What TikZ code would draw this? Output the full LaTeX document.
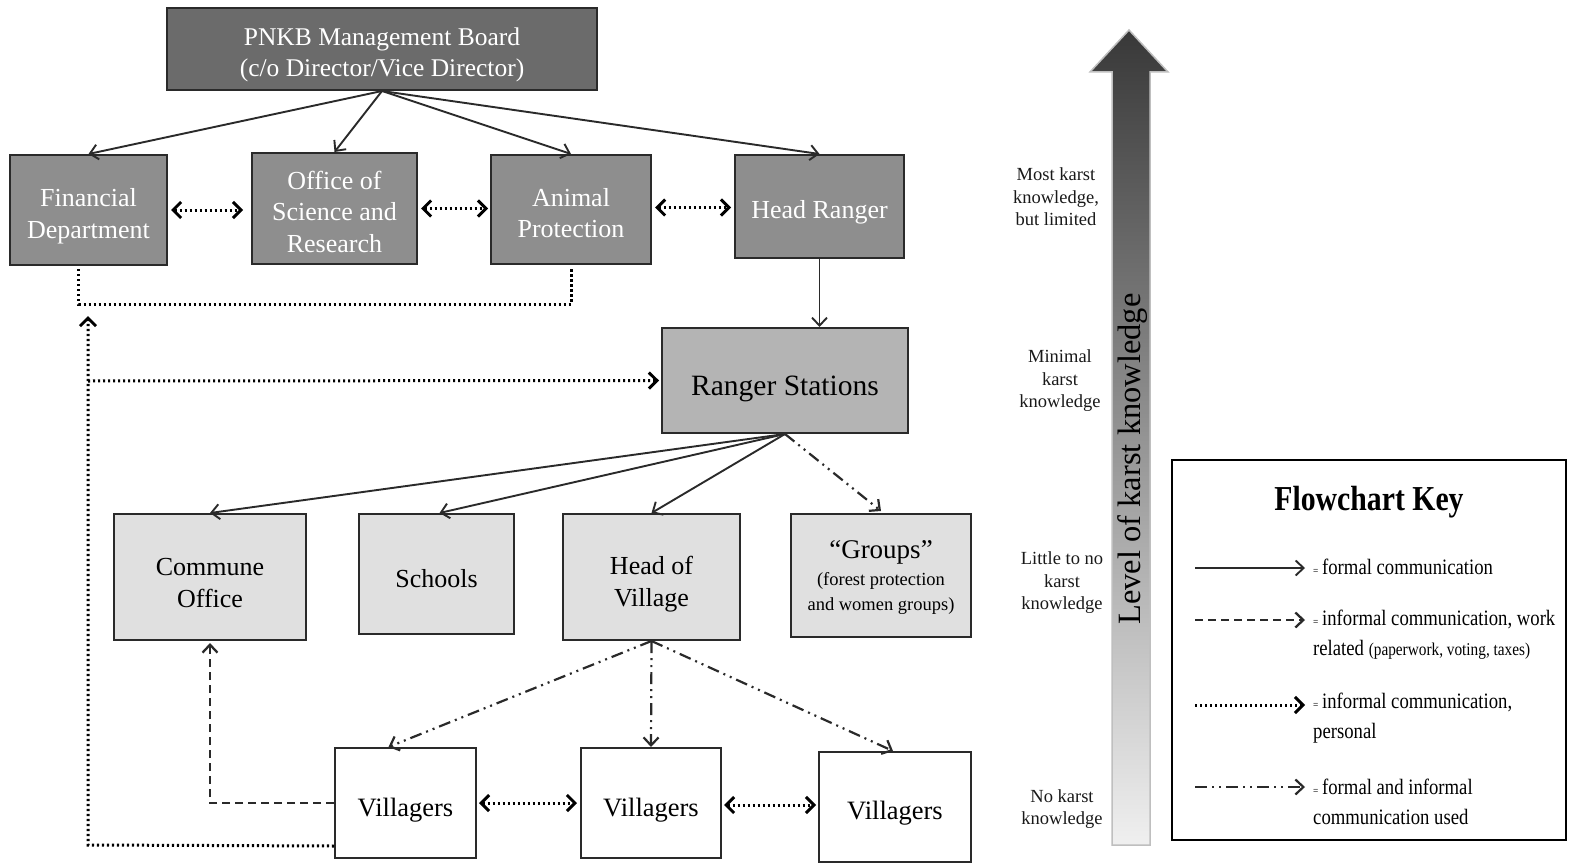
\documentclass[tikz,border=0pt]{standalone}
\usepackage{fontspec}
\setmainfont{Liberation Serif}
\newfontfamily\keyfont[FakeStretch=0.85]{Liberation Serif}
\usetikzlibrary{arrows.meta,calc}

\definecolor{boardgray}{HTML}{6B6B6B}
\definecolor{midgray}{HTML}{8E8E8E}
\definecolor{stationgray}{HTML}{B4B4B4}
\definecolor{lowgray}{HTML}{E0E0E0}
\definecolor{edge}{HTML}{2A2A2A}

% a strut that makes the first line taller, so the text sits a little lower in its box
\newcommand{\dn}[1]{\rule{0pt}{\dimexpr 0.7em+#1\relax}}
\newcommand{\eqmark}{{\fontsize{11}{11}\selectfont=}\,}
\newcommand{\groupsub}{\fontsize{18.5}{25}\selectfont}

\tikzset{
  box/.style={draw=edge, line width=2pt, inner sep=0pt, align=center,
    font=\fontsize{26}{31.5}\selectfont},
  topbox/.style={box, fill=boardgray, text=white, font=\fontsize{25.5}{31}\selectfont},
  deptbox/.style={box, fill=midgray, text=white},
  stationbox/.style={box, fill=stationgray, font=\fontsize{29.5}{34}\selectfont},
  localbox/.style={box, fill=lowgray},
  villbox/.style={box, fill=white, font=\fontsize{26.5}{32}\selectfont},
  barb/.style={Straight Barb[length=8pt,width=15pt]},
  formal/.style={line width=1.9pt, draw=edge, -{Straight Barb[length=8pt,width=15pt]}},
  workinf/.style={line width=2.3pt, draw=edge, dash pattern=on 8pt off 5pt,
    -{Straight Barb[length=8pt,width=15pt]}},
  personal/.style={line width=3pt, draw=black, dash pattern=on 2.2pt off 2.8pt},
  personalto/.style={personal, -{Straight Barb[length=8pt,width=16pt]}},
  personalboth/.style={personal, {Straight Barb[length=8pt,width=16pt]}-{Straight Barb[length=8pt,width=16pt]}},
  mixed/.style={line width=2.2pt, draw=edge,
    dash pattern=on 12pt off 5pt on 2pt off 5pt on 2pt off 5pt,
    -{Straight Barb[length=8pt,width=15pt]}},
  levellabel/.style={align=center, font=\fontsize{18.5}{22.5}\selectfont, text=black!90},
  keytext/.style={anchor=west, align=left, inner sep=0pt,
    font=\keyfont\fontsize{22}{30}\selectfont},
}

\begin{document}
\begin{tikzpicture}[x=1pt,y=-1pt]
\useasboundingbox (0,0) rectangle (1572,864);

% ---------- organisation boxes ----------
\node[topbox, minimum width=430pt, minimum height=82pt] (board) at (382,49)
  {\dn{12pt}PNKB Management Board\\(c/o Director/Vice Director)};

\node[deptbox, minimum width=157pt, minimum height=110pt] (fin) at (88.5,210)
  {\dn{12pt}Financial\\Department};
\node[deptbox, minimum width=165pt, minimum height=111pt] (osr) at (334.5,208.5)
  {\dn{7pt}Office of\\Science and\\Research};
\node[deptbox, minimum width=160pt, minimum height=109pt] (anim) at (571,209.5)
  {\dn{7pt}Animal\\Protection};
\node[deptbox, minimum width=169pt, minimum height=103pt] (head) at (819.5,206.5)
  {\dn{12pt}Head Ranger};

\node[stationbox, minimum width=246pt, minimum height=105pt] (rs) at (785,380.5)
  {\dn{16pt}Ranger Stations};

\node[localbox, minimum width=192pt, minimum height=126pt] (comm) at (210,577)
  {\dn{11pt}Commune\\Office};
\node[localbox, minimum width=155pt, minimum height=120pt] (school) at (436.5,574)
  {\dn{10pt}Schools};
\node[localbox, minimum width=177pt, minimum height=126pt] (hov) at (651.5,577)
  {\dn{14pt}Head of\\Village};
\node[localbox, minimum width=180pt, minimum height=123pt] (groups) at (881,575.5)
  {\fontsize{27}{28}\selectfont\dn{4pt}“Groups”\\[-5pt]
   \groupsub (forest protection\\[-6pt] \groupsub and women groups)};

\node[villbox, minimum width=141pt, minimum height=110pt] (v1) at (405.5,803) {\dn{14pt}Villagers};
\node[villbox, minimum width=140pt, minimum height=110pt] (v2) at (651,803) {\dn{14pt}Villagers};
\node[villbox, minimum width=152pt, minimum height=110pt] (v3) at (895,807) {\dn{12pt}Villagers};

% ---------- formal lines ----------
\draw[formal] (board.south) -- (fin.north);
\draw[formal] (board.south) -- (osr.north);
\draw[formal] (board.south) -- (anim.north);
\draw[formal] (board.south) -- (head.north);
\draw[formal] (head.south) -- (head.south |- rs.north);
\draw[formal] (rs.south) -- (comm.north);
\draw[formal] (rs.south) -- ([xshift=3pt]school.north);
\draw[formal] (rs.south) -- (hov.north);

% ---------- formal and informal ----------
\draw[mixed] (rs.south) -- ([yshift=2pt]groups.north);
\draw[mixed] (hov.south) -- ([xshift=-17pt]v1.north);
\draw[mixed] (hov.south) -- (v2.north);
\draw[mixed] (hov.south) -- ([xshift=-2pt]v3.north);

% ---------- personal links ----------
\draw[personalboth, shorten <=3pt, shorten >=8pt] (fin.east) -- (fin.east -| osr.west);
\draw[personalboth, shorten <=3pt, shorten >=2pt] (osr.east) -- (osr.east -| anim.west);
\draw[personalboth, shorten <=3pt, shorten >=3pt] ([yshift=2pt]anim.east) -- ([yshift=2pt]anim.east -| head.west);
\draw[personalboth, shorten <=2pt, shorten >=3pt] (v1.east) -- (v1.east -| v2.west);
\draw[personalboth, shorten <=2pt, shorten >=2pt] ([yshift=-2pt]v2.east) -- ([yshift=-2pt]v2.east -| v3.west);

\coordinate (finfoot) at ([xshift=-10pt,yshift=-3pt]fin.south);
\coordinate (animfoot) at ([yshift=-3pt]anim.south);
\draw[personal] (finfoot) -- ++(0,35) -| (animfoot);

\coordinate (loopcorner) at (88,845);
\coordinate (looptop) at (88,316);
\coordinate (branch) at (88,381);
\draw[personalto] ([yshift=13pt]v1.south west) -- (loopcorner) -- (looptop);
\draw[personalto, shorten >=2pt] (branch) -- (rs.west);

% ---------- work related informal ----------
\draw[workinf, shorten >=2pt] (v1.west) -| (comm.south);

% ---------- knowledge scale ----------
\path[top color=black!78, bottom color=black!6, draw=black!25, line width=1.5pt]
  (1112,845) -- (1112,72) -- (1090,72) -- (1129,30) -- (1168,72) -- (1150,72)
  -- (1150,845) -- cycle;
\node[rotate=90, font=\fontsize{32.5}{34}\selectfont] (scale) at (1133,459)
  {Level of karst knowledge};

\node[levellabel] (lvl1) at (1056,197) {Most karst\\knowledge,\\but limited};
\node[levellabel] (lvl2) at (1060,381) {Minimal\\karst\\knowledge};
\node[levellabel] (lvl3) at (1062,583) {Little to no\\karst\\knowledge};
\node[levellabel] (lvl4) at (1062,809) {No karst\\knowledge};

% ---------- key ----------
\node[draw=black, line width=2.5pt, minimum width=394pt, minimum height=380pt,
  inner sep=0pt] (key) at (1369,650) {};
\node[font=\keyfont\bfseries\fontsize{35}{38}\selectfont] (keytitle) at (1369,502)
  {Flowchart Key};

\coordinate (k1a) at (1195,568);  \coordinate (k1b) at (1305,568);
\coordinate (k2a) at (1195,620);  \coordinate (k2b) at (1305,620);
\coordinate (k3a) at (1195,705);  \coordinate (k3b) at (1305,705);
\coordinate (k4a) at (1195,787);  \coordinate (k4b) at (1305,787);
\draw[formal] (k1a) -- (k1b);
\draw[workinf] (k2a) -- (k2b);
\draw[personalto] (k3a) -- (k3b);
\draw[mixed] (k4a) -- (k4b);

\node[keytext] (t1) at (1313,567) {\eqmark formal communication};
\node[keytext] (t2) at (1313,635)
  {\eqmark informal communication, work\\related {\fontsize{18}{30}\selectfont(paperwork, voting, taxes)}};
\node[keytext] (t3) at (1313,718) {\eqmark informal communication,\\personal};
\node[keytext] (t4) at (1313,802) {\eqmark formal and informal\\communication used};
\end{tikzpicture}
\end{document}
